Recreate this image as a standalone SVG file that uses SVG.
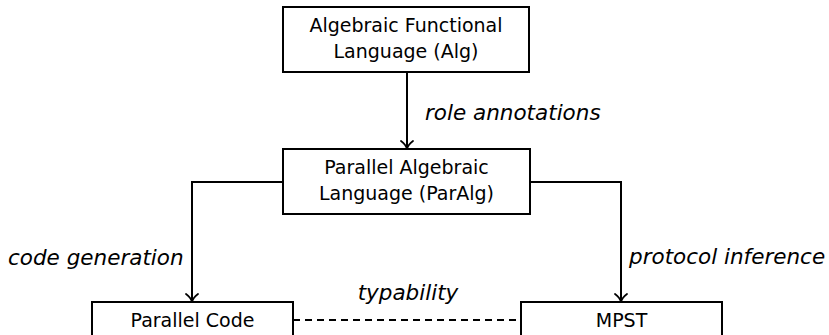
<svg xmlns="http://www.w3.org/2000/svg" width="829" height="335" viewBox="0 0 829 335">
<style>
.box{fill:#fff;stroke:#000;stroke-width:2}
.t{font-family:"DejaVu Sans","Liberation Sans",sans-serif;font-size:19px;fill:#000;text-anchor:middle}
.lbl{font-family:"DejaVu Sans","Liberation Sans",sans-serif;font-size:21.5px;font-style:italic;fill:#000}
.c{fill:none;stroke:#000;stroke-width:2}
</style>
<defs>
<marker id="arr" viewBox="-10 -7 12 14" markerWidth="12" markerHeight="14" refX="0" refY="0" orient="auto" markerUnits="userSpaceOnUse">
<path d="M-8,-6 C-5,-2 -2,-0.5 0,0 C-2,0.5 -5,2 -8,6" fill="none" stroke="#000" stroke-width="1.8" stroke-linecap="round"/>
</marker>
</defs>
<g id="connectors">
<path class="c" d="M407,72 V149" marker-end="url(#arr)"/>
<path class="c" d="M283,182 H192 V302" marker-end="url(#arr)"/>
<path class="c" d="M530,182 H621 V302" marker-end="url(#arr)"/>
<path class="c" d="M293,320 H521" stroke-dasharray="7,5"/>
<text class="lbl" x="425" y="120">role annotations</text>
<text class="lbl" x="8" y="265">code generation</text>
<text class="lbl" x="629" y="264">protocol inference</text>
<text class="lbl" x="408" y="300" text-anchor="middle">typability</text>
</g>
<g id="alg">
<rect class="box" x="283" y="7" width="246" height="65"/>
<text class="t" x="406" y="32">Algebraic Functional</text>
<text class="t" x="406" y="58">Language (Alg)</text>
</g>
<g id="paralg">
<rect class="box" x="283" y="149" width="247" height="65"/>
<text class="t" x="406.5" y="174">Parallel Algebraic</text>
<text class="t" x="406.5" y="200">Language (ParAlg)</text>
</g>
<g id="parcode">
<rect class="box" x="92" y="302" width="201" height="65"/>
<text class="t" x="192.5" y="327">Parallel Code</text>
</g>
<g id="mpst">
<rect class="box" x="521" y="302" width="201" height="65"/>
<text class="t" x="621.5" y="327">MPST</text>
</g>
</svg>
